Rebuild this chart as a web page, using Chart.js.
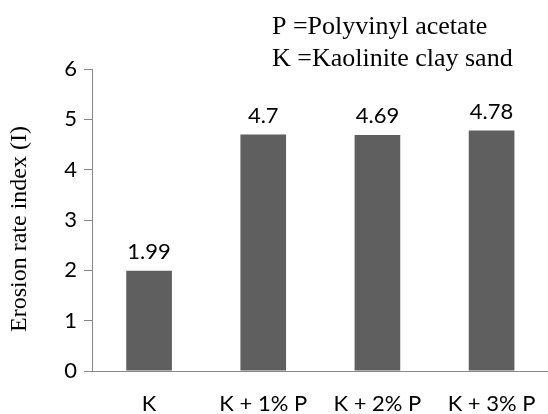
<!DOCTYPE html>
<html>
<head>
<meta charset="utf-8">
<script src="https://cdn.jsdelivr.net/npm/chart.js@4/dist/chart.umd.min.js"></script>
<style>
  html, body { margin: 0; padding: 0; background: #fff; overflow: hidden; }
  #wrap { position: relative; width: 548px; height: 414px; overflow: hidden; }
</style>
</head>
<body>
<div id="wrap"><canvas id="c" width="556" height="414"></canvas></div>
<script>
const categories = ["K", "K + 1% P", "K + 2% P", "K + 3% P"];
const erosionIndex = [1.99, 4.70, 4.69, 4.78];
const valueLabels = ["1.99", "4.7", "4.69", "4.78"];
const yTicks = [0, 1, 2, 3, 4, 5, 6];
const notes = ["P =Polyvinyl acetate", "K =Kaolinite clay sand"];
const yTitle = "Erosion rate index (I)";

const tickFont = { family: "Lato, 'Open Sans', sans-serif", size: 22 };
const serif = "'Liberation Serif', 'Times New Roman', serif";

const valueLabelPlugin = {
  id: 'valueLabels',
  afterDatasetsDraw(chart) {
    const ctx = chart.ctx;
    const meta = chart.getDatasetMeta(0);
    ctx.save();
    ctx.font = tickFont.size + "px " + tickFont.family;
    ctx.fillStyle = "#000";
    ctx.textAlign = "center";
    ctx.textBaseline = "middle";
    meta.data.forEach((bar, i) => {
      ctx.fillText(valueLabels[i], bar.x, bar.y - 19);
    });
    ctx.restore();
  }
};

const textPlugin = {
  id: 'texts',
  afterDraw(chart) {
    const ctx = chart.ctx;
    ctx.save();
    ctx.font = "26px " + serif;
    ctx.fillStyle = "#000";
    ctx.textAlign = "left";
    ctx.textBaseline = "middle";
    notes.forEach((t, i) => ctx.fillText(t, 272, 27 + i * 32));
    // y-axis title, rotated
    ctx.font = "24px " + serif;
    ctx.textAlign = "center";
    ctx.translate(20, 229);
    ctx.rotate(-Math.PI / 2);
    ctx.fillText(yTitle, 0, 0);
    ctx.restore();
  }
};

new Chart(document.getElementById('c'), {
  type: 'bar',
  data: {
    labels: categories,
    datasets: [{
      data: erosionIndex,
      backgroundColor: "#5f5f5f",
      borderWidth: 0,
      categoryPercentage: 1.0,
      barPercentage: 0.4
    }]
  },
  options: {
    responsive: false,
    animation: false,
    devicePixelRatio: 1,
    layout: { padding: { top: 69, right: 4, left: 0, bottom: 0 } },
    plugins: { legend: { display: false }, tooltip: { enabled: false } },
    scales: {
      x: {
        afterFit(s) { s.height = 43; },
        grid: { display: false, drawTicks: false },
        border: { display: true, color: "#888", width: 1 },
        ticks: { font: tickFont, color: "#000", padding: 20, maxRotation: 0, autoSkip: false }
      },
      y: {
        min: 0, max: 6,
        afterFit(s) { s.width = 92; },
        afterBuildTicks(scale) { scale.ticks = yTicks.map(v => ({ value: v })); },
        grid: { display: true, drawOnChartArea: false, drawTicks: true, tickLength: 8, color: "#888" },
        border: { display: true, color: "#888", width: 1 },
        ticks: { font: tickFont, color: "#000", padding: 7 },
        title: { display: false, text: yTitle }
      }
    }
  },
  plugins: [valueLabelPlugin, textPlugin]
});
</script>
</body>
</html>
